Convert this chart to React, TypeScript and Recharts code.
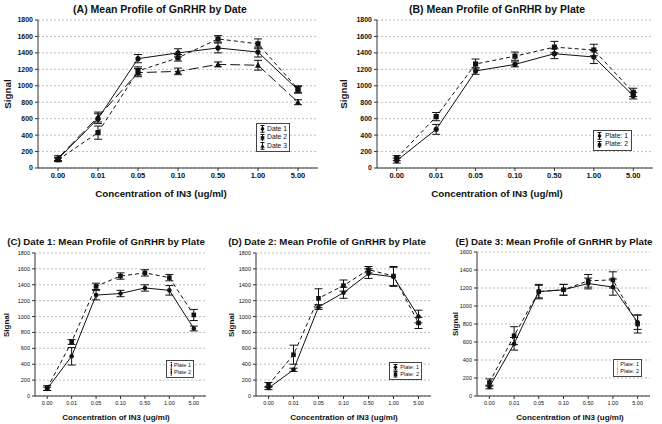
import React from 'react';
import { LineChart, Line, XAxis, YAxis, CartesianGrid, ErrorBar, Legend } from 'recharts';

const concentrations = ['0.00', '0.01', '0.05', '0.10', '0.50', '1.00', '5.00'];
const ticks1800 = [0, 200, 400, 600, 800, 1000, 1200, 1400, 1600, 1800];
const ticks1600 = [0, 200, 400, 600, 800, 1000, 1200, 1400, 1600];

// (A) by date
const aDate1 = [110, 600, 1330, 1400, 1460, 1410, 950];
const aDate1Err = [20, 60, 50, 50, 60, 60, 40];
const aDate2 = [100, 430, 1180, 1340, 1570, 1510, 960];
const aDate2Err = [20, 80, 50, 40, 40, 60, 40];
const aDate3 = [120, 620, 1160, 1175, 1260, 1250, 800];
const aDate3Err = [30, 60, 50, 40, 30, 60, 30];

// (B) by plate
const bPlate1 = [90, 470, 1180, 1260, 1390, 1350, 880];
const bPlate1Err = [30, 60, 40, 30, 60, 80, 40];
const bPlate2 = [120, 625, 1265, 1360, 1470, 1435, 920];
const bPlate2Err = [30, 50, 60, 50, 70, 70, 50];

// (C) date 1
const cPlate1 = [90, 500, 1270, 1290, 1360, 1330, 850];
const cPlate1Err = [20, 110, 60, 40, 40, 60, 30];
const cPlate2 = [100, 680, 1380, 1510, 1550, 1490, 1020];
const cPlate2Err = [30, 30, 40, 40, 40, 40, 70];

// (D) date 2
const dPlate1 = [100, 330, 1120, 1300, 1540, 1500, 1000];
const dPlate1Err = [20, 20, 30, 70, 60, 120, 80];
const dPlate2 = [140, 520, 1230, 1390, 1590, 1510, 920];
const dPlate2Err = [30, 120, 120, 70, 40, 120, 70];

// (E) date 3
const ePlate1 = [100, 580, 1160, 1180, 1250, 1210, 820];
const ePlate1Err = [20, 70, 70, 60, 60, 90, 80];
const ePlate2 = [150, 670, 1160, 1180, 1280, 1290, 800];
const ePlate2Err = [40, 100, 80, 60, 70, 90, 100];

const FONT = '"Liberation Sans", Arial, sans-serif';
const INK = '#111';

type Shape = 'circle' | 'square' | 'triangle';
type Series = { name: string; values: number[]; errors: number[]; dash?: string; shape: Shape };

const Marker = ({ cx, cy, shape, size }: { cx: number; cy: number; shape: Shape; size: number }) => {
  if (cx == null || cy == null) return null;
  if (shape === 'square') {
    return <rect x={cx - size} y={cy - size} width={size * 2} height={size * 2} fill={INK} />;
  }
  if (shape === 'triangle') {
    const s = size * 1.2;
    return <polygon points={`${cx},${cy - s} ${cx + s},${cy + s * 0.8} ${cx - s},${cy + s * 0.8}`} fill={INK} />;
  }
  return <circle cx={cx} cy={cy} r={size} fill={INK} />;
};

const dotFor = (shape: Shape, size: number) => (p: any) => (
  <Marker key={`m-${shape}-${p.index}`} cx={p.cx} cy={p.cy} shape={shape} size={size} />
);

const LegendBox = ({ series, font }: { series: Series[]; font: number }) => (
  <div style={{ border: '1px solid #444', background: '#fff', padding: '1px 2px', fontFamily: FONT, fontSize: font, lineHeight: `${font + 1.5}px`, color: INK }}>
    {series.map((s) => (
      <div key={s.name} style={{ display: 'flex', alignItems: 'center', whiteSpace: 'nowrap' }}>
        <svg width={7} height={font + 1} style={{ marginRight: 2 }}>
          <line x1={3.5} x2={3.5} y1={0.5} y2={font + 0.5} stroke={INK} strokeWidth={1} />
          <line x1={1.5} x2={5.5} y1={0.5} y2={0.5} stroke={INK} strokeWidth={1} />
          <line x1={1.5} x2={5.5} y1={font + 0.5} y2={font + 0.5} stroke={INK} strokeWidth={1} />
          <Marker cx={3.5} cy={(font + 1) / 2} shape={s.shape} size={1.8} />
        </svg>
        {s.name}
      </div>
    ))}
  </div>
);

type PanelProps = {
  left: number; top: number; width: number; height: number;
  plotLeft: number; plotRight: number; plotTop: number; plotBottom: number;
  pad: number; yMax: number; yTicks: number[]; series: Series[];
  title: string; titleX: number; titleY: number; titleSize: number;
  xLabelX: number; xLabelY: number; labelSize: number; signalX: number;
  tickX: number; tickY: number; tickBold: boolean; markerSize: number;
  legendX: number; legendY: number; legendW: number; legendFont: number;
};

const Panel = (p: PanelProps) => {
  const rows = concentrations.map((c, i) => {
    const row: any = { conc: c };
    p.series.forEach((s, k) => {
      row['v' + k] = s.values[i];
      row['e' + k] = s.errors[i];
    });
    return row;
  });
  const mt = p.plotTop - p.top;
  const mr = p.left + p.width - p.plotRight;
  const yw = p.plotLeft - p.left;
  const xh = p.top + p.height - p.plotBottom;
  const weight = p.tickBold ? 'bold' : 'normal';
  const signalY = (p.plotTop + p.plotBottom) / 2;
  return (
    <>
      <div style={{ position: 'absolute', left: p.titleX, top: p.titleY, transform: 'translate(-50%, -50%)', whiteSpace: 'nowrap', fontWeight: 'bold', fontSize: p.titleSize, color: INK }}>
        {p.title}
      </div>
      <div style={{ position: 'absolute', left: p.left, top: p.top, width: p.width, height: p.height }}>
        <LineChart width={p.width} height={p.height} data={rows} margin={{ top: mt, right: mr, left: 0, bottom: 0 }}>
          <CartesianGrid vertical={false} stroke="#bdbdbd" strokeDasharray="2 2" />
          <XAxis dataKey="conc" interval={0} padding={{ left: p.pad, right: p.pad }} height={xh} tickSize={3} tickMargin={2}
            stroke="#333" axisLine={{ stroke: '#333' }} tickLine={{ stroke: '#333' }}
            tick={{ fontSize: p.tickX, fontWeight: weight, fill: INK, fontFamily: FONT }} />
          <XAxis xAxisId="top" orientation="top" dataKey="conc" padding={{ left: p.pad, right: p.pad }} height={0} tick={false} stroke="#333" />
          <YAxis domain={[0, p.yMax]} ticks={p.yTicks} interval={0} width={yw} tickSize={3} tickMargin={2}
            stroke="#333" axisLine={{ stroke: '#333' }} tickLine={{ stroke: '#333' }}
            tick={{ fontSize: p.tickY, fontWeight: weight, fill: INK, fontFamily: FONT }} />
          <YAxis yAxisId="right" orientation="right" width={0} tick={false} stroke="#333" />
          {p.series.map((s, k) => (
            <Line key={s.name} dataKey={'v' + k} name={s.name} type="linear" stroke={INK} strokeWidth={1}
              strokeDasharray={s.dash} dot={dotFor(s.shape, p.markerSize)} activeDot={false} isAnimationActive={false}>
              <ErrorBar dataKey={'e' + k} width={4} stroke={INK} strokeWidth={1} direction="y" isAnimationActive={false} />
            </Line>
          ))}
          <Legend layout="vertical" align="center" verticalAlign="middle"
            wrapperStyle={{ left: p.legendX - p.left, top: p.legendY - p.top, width: p.legendW, height: 'auto' }}
            content={() => <LegendBox series={p.series} font={p.legendFont} />} />
        </LineChart>
      </div>
      <div style={{ position: 'absolute', left: p.xLabelX, top: p.xLabelY, transform: 'translate(-50%, -50%)', whiteSpace: 'nowrap', fontWeight: 'bold', fontSize: p.labelSize, color: INK }}>
        Concentration of IN3 (ug/ml)
      </div>
      <div style={{ position: 'absolute', left: p.signalX, top: signalY, transform: 'translate(-50%, -50%) rotate(-90deg)', whiteSpace: 'nowrap', fontWeight: 'bold', fontSize: p.labelSize, color: INK }}>
        Signal
      </div>
    </>
  );
};

const dateSeries: Series[] = [
  { name: 'Date 1', values: aDate1, errors: aDate1Err, shape: 'circle' },
  { name: 'Date 2', values: aDate2, errors: aDate2Err, dash: '4 3', shape: 'square' },
  { name: 'Date 3', values: aDate3, errors: aDate3Err, dash: '10 4', shape: 'triangle' },
];

const plateSeries = (p1: number[], e1: number[], p2: number[], e2: number[], n1: string, n2: string): Series[] => [
  { name: n1, values: p1, errors: e1, shape: 'circle' },
  { name: n2, values: p2, errors: e2, dash: '4 3', shape: 'square' },
];

const top = { height: 210, titleY: 9, titleSize: 10.5, xLabelY: 193, labelSize: 9.8, tickX: 7.5, tickY: 7, tickBold: true, markerSize: 2.6, legendFont: 6.8 };
const bottom = { top: 225, height: 199, titleY: 241, titleSize: 9.7, xLabelY: 417, labelSize: 8, tickX: 5.5, tickY: 5.5, tickBold: false, markerSize: 2.3, legendFont: 5.5 };

export default function App() {
  return (
    <div style={{ position: 'absolute', left: 0, top: 0, width: 662, height: 424, background: '#fff', fontFamily: FONT, overflow: 'hidden' }}>
      <Panel {...top} left={0} top={0} width={330} plotLeft={38} plotRight={318} plotTop={20} plotBottom={168} pad={20}
        yMax={1800} yTicks={ticks1800} series={dateSeries} title="(A) Mean Profile of GnRHR by Date" titleX={160}
        xLabelX={161} signalX={7} legendX={256} legendY={123} legendW={34} />
      <Panel {...top} left={330} top={0} width={332} plotLeft={377} plotRight={653} plotTop={20} plotBottom={168} pad={19.75}
        yMax={1800} yTicks={ticks1800} series={plateSeries(bPlate1, bPlate1Err, bPlate2, bPlate2Err, 'Plate: 1', 'Plate: 2')}
        title="(B) Mean Profile of GnRHR by Plate" titleX={497} xLabelX={497} signalX={343} legendX={593} legendY={130} legendW={39} />
      <Panel {...bottom} left={0} width={218} plotLeft={35} plotRight={206} plotTop={253} plotBottom={396} pad={12.2}
        yMax={1800} yTicks={ticks1800} series={plateSeries(cPlate1, cPlate1Err, cPlate2, cPlate2Err, 'Plate 1', 'Plate 2')}
        title="(C) Date 1: Mean Profile of GnRHR by Plate" titleX={106} xLabelX={116} signalX={6} legendX={166} legendY={360} legendW={28} />
      <Panel {...bottom} left={218} width={219} plotLeft={256} plotRight={431} plotTop={253} plotBottom={396} pad={12.5}
        yMax={1800} yTicks={ticks1800} series={plateSeries(dPlate1, dPlate1Err, dPlate2, dPlate2Err, 'Plate: 1', 'Plate: 2')}
        title="(D) Date 2: Mean Profile of GnRHR by Plate" titleX={327} xLabelX={344} signalX={231} legendX={389} legendY={362} legendW={33} />
      <Panel {...bottom} left={437} width={225} plotLeft={477} plotRight={650} plotTop={252} plotBottom={396} pad={12.4}
        yMax={1600} yTicks={ticks1600} series={plateSeries(ePlate1, ePlate1Err, ePlate2, ePlate2Err, 'Plate: 1', 'Plate: 2')}
        title="(E) Date 3: Mean Profile of GnRHR by Plate" titleX={554} xLabelX={570} signalX={455} legendX={613} legendY={359} legendW={29} />
    </div>
  );
}
